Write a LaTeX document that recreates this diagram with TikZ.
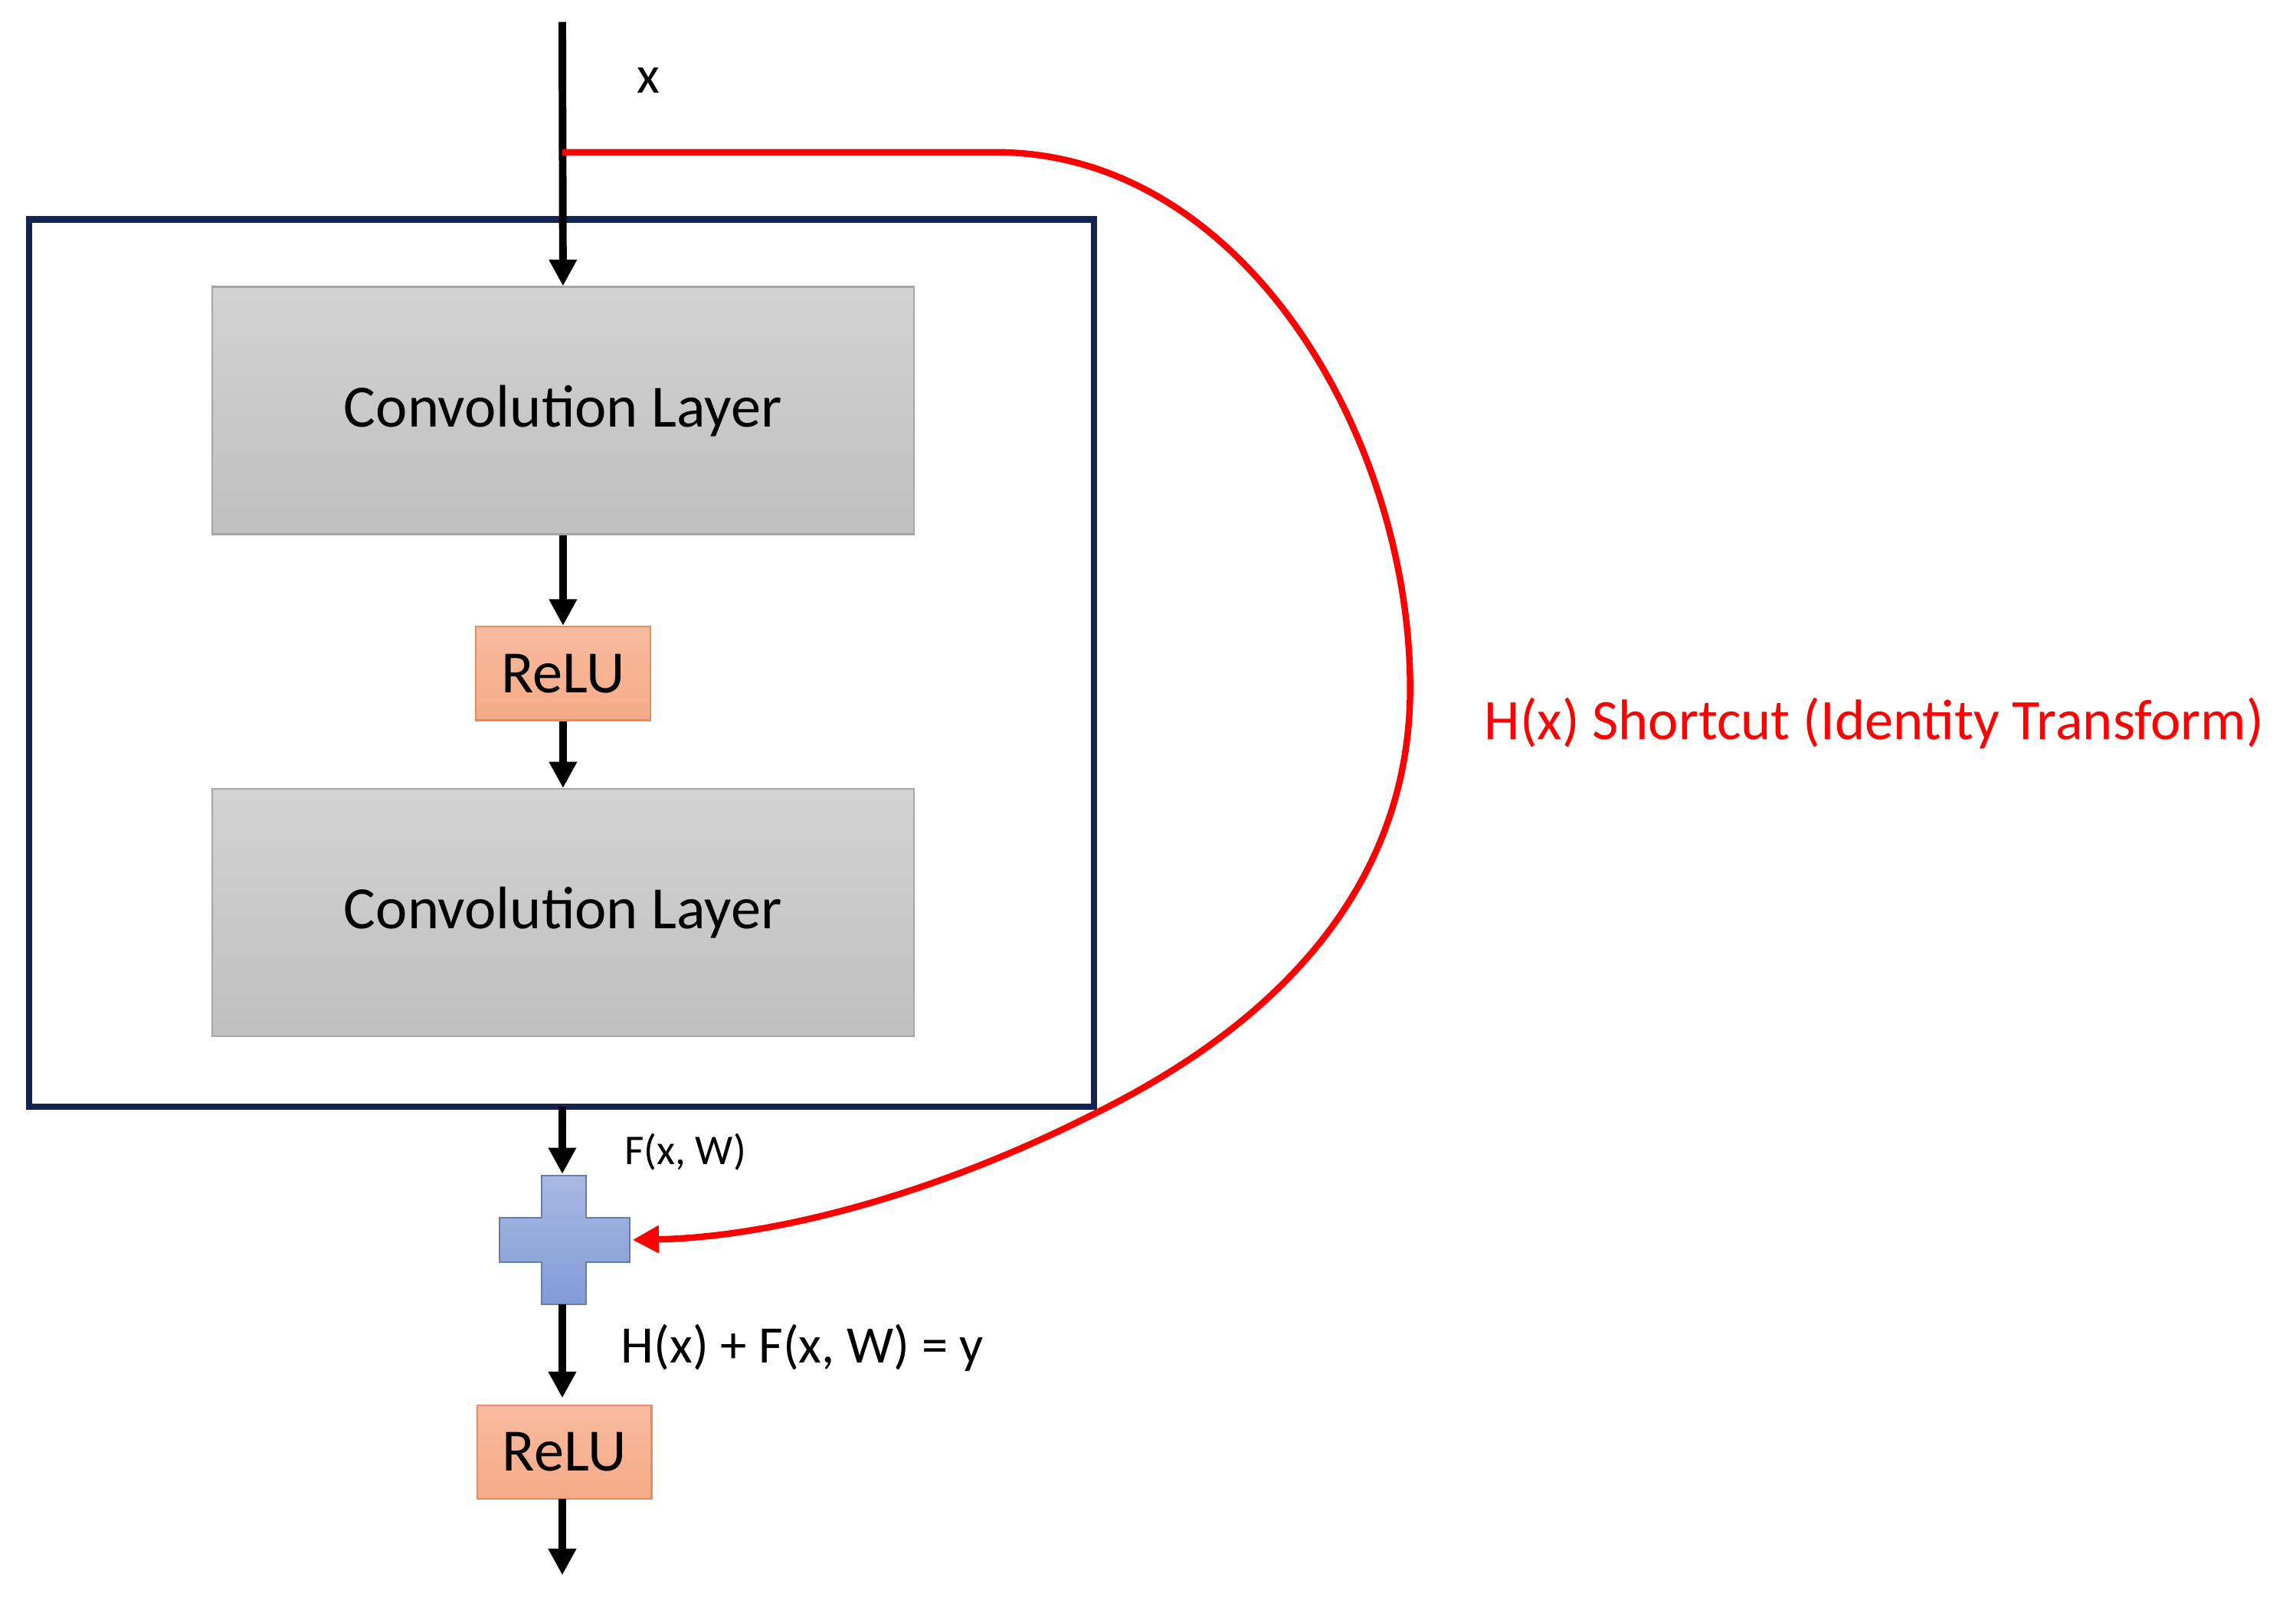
\documentclass[tikz,border=0pt]{standalone}
\usepackage{fontspec}
\setmainfont{Carlito}
\usetikzlibrary{arrows.meta}
\definecolor{navy}{RGB}{20,35,80}
\definecolor{relu}{RGB}{246,170,135}
\definecolor{reluedge}{RGB}{230,140,100}
\definecolor{plusc}{RGB}{130,155,215}
\begin{document}
\begin{tikzpicture}[x=0.5pt,y=-0.5pt,
  arr/.style={line width=2.6pt,-{Triangle[length=9pt,width=9pt]}},
  conv/.style={draw=gray!70,line width=0.6pt,top color=gray!35,bottom color=gray!50,minimum width=239.5pt,minimum height=84.5pt,font=\fontsize{20.5}{24}\selectfont},
  relu/.style={draw=reluedge,line width=0.6pt,top color=relu!80,bottom color=relu,minimum width=59.5pt,minimum height=32pt,font=\fontsize{20.5}{24}\selectfont}]
\useasboundingbox (0,0) rectangle (1568,1095);
\draw[navy,line width=2.2pt] (20,150) rectangle (747,756);
\coordinate (top) at (384,15);
\coordinate (split) at (384,104);
\node[conv] (c1) at (384.5,280.5) {Convolution Layer};
\node[relu] (r1) at (384.5,460) {ReLU};
\node[conv] (c2) at (384.5,623.5) {Convolution Layer};
\coordinate (boxb) at (384,756);
\node[inner sep=0pt,minimum size=44pt] (plus) at (385.5,847) {};
\shade[top color=plusc!70,bottom color=plusc,draw=plusc!80!black,line width=0.5pt] (370,803) -- (400,803) -- (400,832) -- (430,832) -- (430,862) -- (400,862) -- (400,891) -- (370,891) -- (370,862) -- (341,862) -- (341,832) -- (370,832) -- cycle;
\draw[plusc!80!black,line width=0.5pt] (370,803) -- (400,803) -- (400,832) -- (430,832) -- (430,862) -- (400,862) -- (400,891) -- (370,891) -- (370,862) -- (341,862) -- (341,832) -- (370,832) -- cycle;
\node[relu] (r2) at (385.5,992) {ReLU};
\coordinate (out) at (384,1076);
\draw[arr] (top) -- (c1.north);
\draw[arr] (c1.south) -- (r1.north);
\draw[arr] (r1.south) -- (c2.north);
\draw[arr] (boxb) -- (384,802);
\draw[arr] (384,891) -- (384,955);
\draw[arr] (384,1024) -- (out);
\draw[red,line width=2.2pt,-{Triangle[length=9pt,width=9pt]}] (split) -- (680,104) .. controls (850,104) and (963,300) .. (963,470) .. controls (963,640) and (820,725) .. (745,762) .. controls (640,815) and (530,845) .. (432,847);
\node[font=\fontsize{18}{21}\selectfont] (lx) at (443,55) {x};
\node[font=\fontsize{14.5}{17}\selectfont] (lf) at (468,787) {F(x, W)};
\node[font=\fontsize{18}{21}\selectfont] (lh) at (548,921) {H(x) + F(x, W) = y};
\node[red,font=\fontsize{19.5}{23}\selectfont] (ls) at (1280,494) {H(x) Shortcut (Identity Transform)};
\end{tikzpicture}
\end{document}
